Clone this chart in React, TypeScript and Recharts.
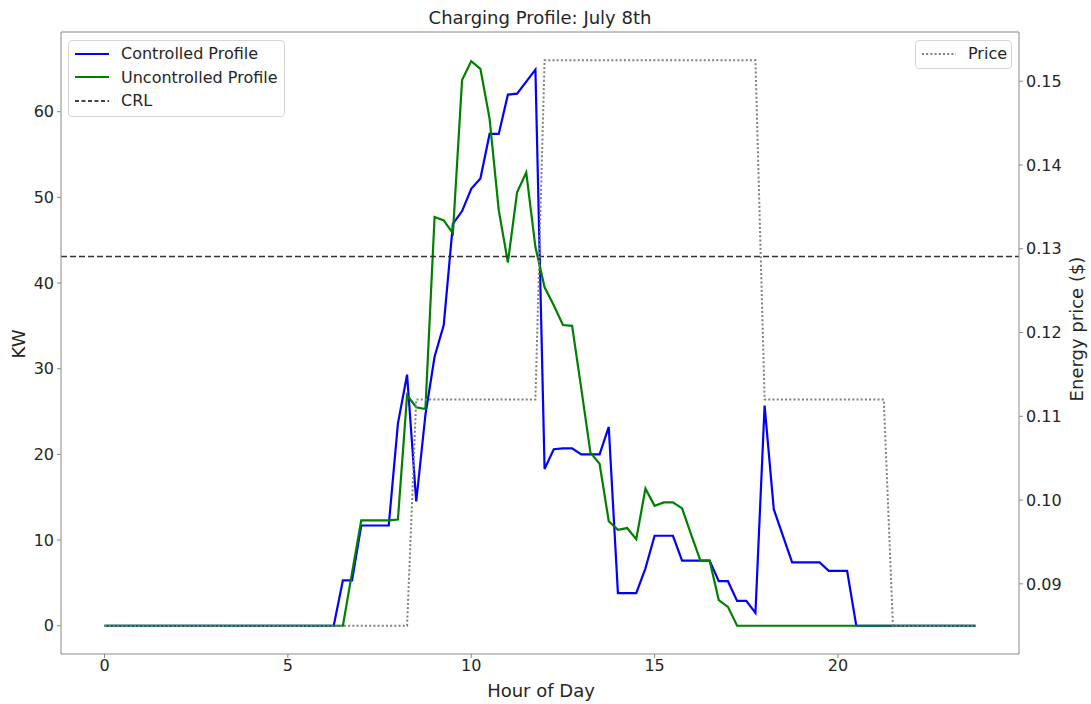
import {
  ComposedChart,
  Line,
  XAxis,
  YAxis,
  ReferenceLine,
} from "recharts";

// 15-minute slots over one day (96 samples)
const HOURS: number[] = Array.from({ length: 96 }, (_, i) => i * 0.25);

const CONTROLLED: number[] = [
  0, 0, 0, 0, 0, 0, 0, 0, 0, 0, 0, 0, 0, 0, 0, 0, 0, 0, 0, 0, 0, 0, 0, 0, 0, 0,
  5.3, 5.3, 11.7, 11.7, 11.7, 11.7, 23.6, 29.3, 14.5, 24.6,
  31.4, 35.1, 46.9, 48.4, 51.0, 52.2, 57.4, 57.4, 62.0, 62.1,
  63.5, 64.9, 18.3, 20.6, 20.7, 20.7, 20.0, 20.0, 20.0, 23.2,
  3.8, 3.8, 3.8, 6.7, 10.5, 10.5, 10.5, 7.6, 7.6, 7.6,
  7.6, 5.2, 5.2, 2.9, 2.9, 1.5, 25.7, 13.6, 10.5, 7.4,
  7.4, 7.4, 7.4, 6.4, 6.4, 6.4,
  0, 0, 0, 0, 0, 0, 0, 0, 0, 0, 0, 0, 0, 0,
];

const UNCONTROLLED: number[] = [
  0, 0, 0, 0, 0, 0, 0, 0, 0, 0, 0, 0, 0, 0, 0, 0, 0, 0, 0, 0, 0, 0, 0, 0, 0, 0, 0,
  6.2, 12.3, 12.3, 12.3, 12.3, 12.4, 26.9, 25.5, 25.3,
  47.7, 47.3, 45.8, 63.7, 65.9, 65.0, 59.2, 48.5, 42.4, 50.6,
  52.9, 44.2, 39.5, 37.4, 35.1, 35.0, 27.7, 20.2, 18.9, 12.2,
  11.2, 11.4, 10.1, 16.0, 14.0, 14.4, 14.4, 13.7, 10.6, 7.6,
  7.6, 3.0, 2.2, 0,
  0, 0, 0, 0, 0, 0, 0, 0, 0, 0, 0, 0, 0, 0, 0, 0, 0, 0, 0, 0, 0, 0, 0, 0, 0, 0,
];

// tariff per slot: off-peak, shoulder, peak, shoulder, off-peak
const PRICE: number[] = HOURS.map((_, i) =>
  i <= 33 ? 0.085 : i <= 47 ? 0.112 : i <= 71 ? 0.1525 : i <= 85 ? 0.112 : 0.085
);

const CRL = 43.1;

const X_TICKS = [0, 5, 10, 15, 20];
const KW_TICKS = [0, 10, 20, 30, 40, 50, 60];
const PRICE_TICKS = [0.09, 0.1, 0.11, 0.12, 0.13, 0.14, 0.15];

const KW_DOMAIN: [number, number] = [-3.3, 69.3];

const FONT = "'DejaVu Sans', sans-serif";
const FRAME = "#8a8a8a";
const TEXT = "#262626";

const data = HOURS.map((h, i) => ({
  hour: h,
  controlled: CONTROLLED[i],
  uncontrolled: UNCONTROLLED[i],
  price: PRICE[i],
}));

const tickStyle = { fill: TEXT, fontSize: 16, fontFamily: FONT };

function LegendRow({
  color,
  dash,
  label,
  width = 34,
}: {
  color: string;
  dash?: string;
  label: string;
  width?: number;
}) {
  return (
    <div style={{ display: "flex", alignItems: "center", height: 23.5 }}>
      <svg width={width} height={4} style={{ marginRight: 12 }}>
        <line
          x1={0}
          y1={2}
          x2={width}
          y2={2}
          stroke={color}
          strokeWidth={2}
          strokeDasharray={dash}
        />
      </svg>
      <span>{label}</span>
    </div>
  );
}

export default function App() {
  const legendBox: React.CSSProperties = {
    position: "absolute",
    background: "rgba(255,255,255,0.85)",
    border: "1px solid #d6d6d6",
    borderRadius: 4,
    fontFamily: FONT,
    fontSize: 16,
    color: TEXT,
    boxSizing: "border-box",
  };

  const label: React.CSSProperties = {
    position: "absolute",
    fontFamily: FONT,
    fontSize: 18,
    color: TEXT,
    whiteSpace: "nowrap",
  };

  return (
    <div
      style={{
        position: "absolute",
        left: 0,
        top: 0,
        width: 1091,
        height: 704,
        background: "#fff",
      }}
    >
      <ComposedChart
        width={1091}
        height={704}
        data={data}
        margin={{ top: 32, right: 0, bottom: 0, left: 0 }}
      >
        <XAxis
          dataKey="hour"
          type="number"
          domain={[-1.1875, 24.9375]}
          ticks={X_TICKS}
          allowDataOverflow
          height={50}
          stroke={FRAME}
          tickSize={4}
          tickMargin={2}
          tick={tickStyle}
        />
        <YAxis
          yAxisId="left"
          type="number"
          domain={KW_DOMAIN}
          ticks={KW_TICKS}
          allowDataOverflow
          width={61}
          stroke={FRAME}
          tickSize={4}
          tickMargin={3}
          tick={tickStyle}
        />
        <YAxis
          yAxisId="right"
          orientation="right"
          type="number"
          domain={[0.081625, 0.155875]}
          ticks={PRICE_TICKS}
          allowDataOverflow
          width={72}
          stroke={FRAME}
          tickSize={4}
          tickMargin={3}
          tick={tickStyle}
          tickFormatter={(v: number) => v.toFixed(2)}
        />
        {/* top spine of the frame */}
        <ReferenceLine yAxisId="left" y={KW_DOMAIN[1]} stroke={FRAME} strokeWidth={1} />
        <Line
          yAxisId="left"
          type="linear"
          dataKey="controlled"
          stroke="#0000ff"
          strokeWidth={2.2}
          dot={false}
          isAnimationActive={false}
        />
        <Line
          yAxisId="left"
          type="linear"
          dataKey="uncontrolled"
          stroke="#008000"
          strokeWidth={2.2}
          dot={false}
          isAnimationActive={false}
        />
        <ReferenceLine
          yAxisId="left"
          y={CRL}
          stroke="#333"
          strokeWidth={1.5}
          strokeDasharray="6 3"
        />
        <Line
          yAxisId="right"
          type="linear"
          dataKey="price"
          stroke="#808080"
          strokeWidth={2}
          strokeDasharray="2 2.2"
          dot={false}
          isAnimationActive={false}
        />
      </ComposedChart>

      <div style={{ ...label, left: 540, top: 17, transform: "translate(-50%, -50%)" }}>
        Charging Profile: July 8th
      </div>
      <div style={{ ...label, left: 541, top: 690, transform: "translate(-50%, -50%)" }}>
        Hour of Day
      </div>
      <div
        style={{
          ...label,
          left: 18,
          top: 344,
          transform: "translate(-50%, -50%) rotate(-90deg)",
        }}
      >
        KW
      </div>
      <div
        style={{
          ...label,
          left: 1076,
          top: 329,
          transform: "translate(-50%, -50%) rotate(-90deg)",
        }}
      >
        Energy price ($)
      </div>

      <div
        style={{
          ...legendBox,
          left: 68,
          top: 40,
          width: 217,
          height: 77,
          padding: "1px 0 0 6px",
        }}
      >
        <LegendRow color="#0000ff" label="Controlled Profile" />
        <LegendRow color="#008000" label="Uncontrolled Profile" />
        <LegendRow color="#444" dash="4 2.5" label="CRL" />
      </div>
      <div
        style={{
          ...legendBox,
          left: 915,
          top: 40,
          width: 97,
          height: 29,
          padding: "1px 0 0 6px",
        }}
      >
        <LegendRow color="#808080" dash="2 2.2" label="Price" />
      </div>
    </div>
  );
}
